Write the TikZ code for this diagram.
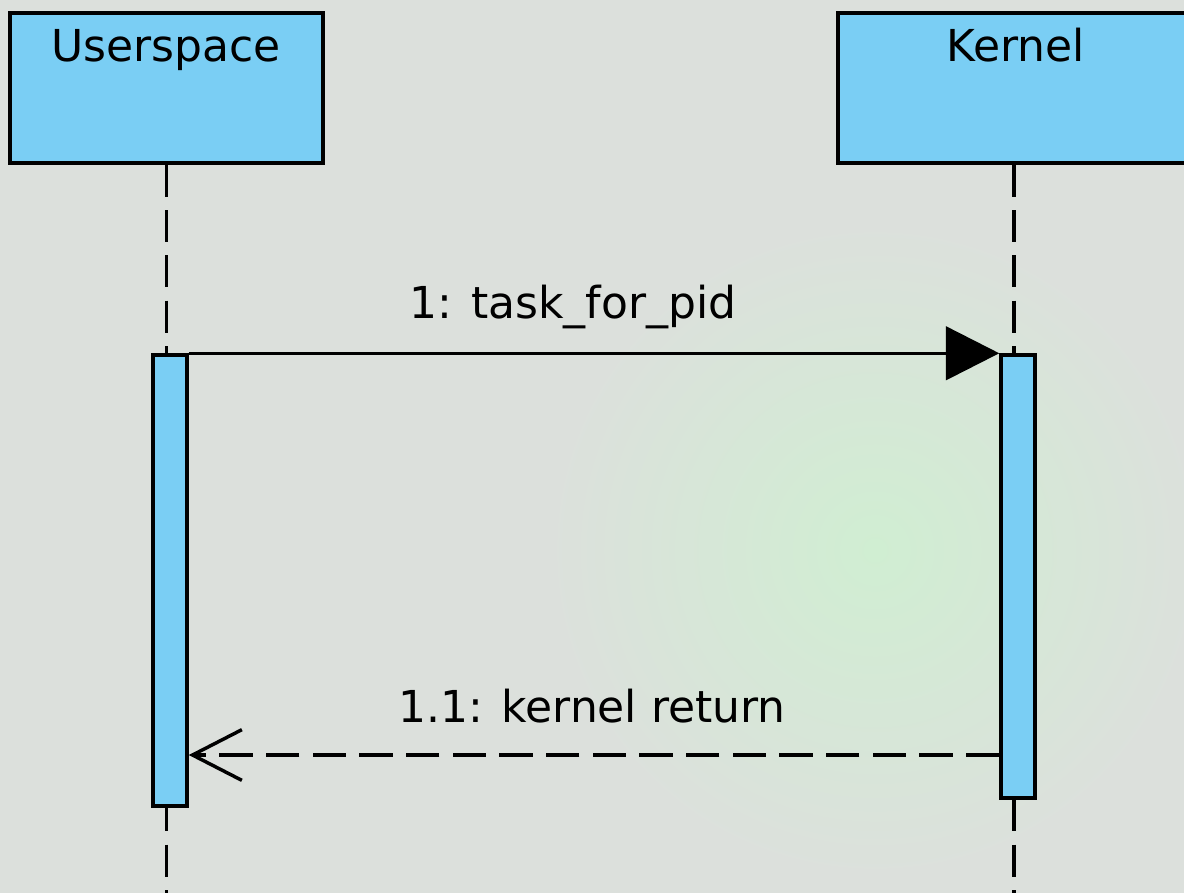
\documentclass[tikz,border=0pt]{standalone}
\usepackage{fontspec}
\setmainfont{DejaVu Sans}
\usetikzlibrary{arrows.meta}
\definecolor{bgc}{HTML}{DCE0DC}
\definecolor{glow}{HTML}{D0EED2}
\definecolor{actfill}{HTML}{7ACEF4}
\tikzset{
  participant/.style={draw=black, fill=actfill, line width=2.6pt, rectangle, inner sep=0pt},
  actbar/.style={draw=black, fill=actfill, line width=2.6pt, rectangle, inner sep=0pt, minimum width=25.5pt},
  lifeline/.style={line width=2.6pt, dash pattern=on 24pt off 10pt},
  msgtext/.style={font=\fontsize{33}{40}\selectfont, anchor=base, inner sep=0pt},
  callarrow/.style={line width=2.6pt, -{Triangle[length=40pt,width=40pt]}},
  retarrow/.style={line width=2.6pt, dash pattern=on 25pt off 10pt, -{Straight Barb[length=37pt,width=38pt,line width=2.6pt]}}
}
\begin{document}
\begin{tikzpicture}[x=0.75pt,y=-0.75pt]
\useasboundingbox (0,0) rectangle (1184,893);
\clip (0,0) rectangle (1184,893);
\fill[bgc] (0,0) rectangle (1184,893);
\shade[inner color=glow, outer color=bgc] (875,550) circle (330);
% participant boxes
\node[participant, minimum width=234.75pt, minimum height=112.5pt] (user) at (166.5,88) {};
\node[participant, minimum width=267pt, minimum height=112.5pt] (kernel) at (1016,88) {};
\node[msgtext] (usertxt) at (166,61) {Userspace};
\node[msgtext] (kerneltxt) at (1016,61) {Kernel};
% lifelines
\coordinate (bottom) at (0,893);
\draw[lifeline] (user.south) -- (user.south |- bottom);
\draw[lifeline] (kernel.south -| 1014,0) -- (1014,893);
% activation bars
\node[actbar, minimum height=338.25pt] (useract) at (170,580.5) {};
\node[actbar, minimum height=332.25pt] (kernelact) at (1018,576.5) {};
% messages
\draw[callarrow] (useract.north east) -- (kernelact.north west);
\node[msgtext] (m1) at (573,318) {1: task\_for\_pid};
\coordinate (ret) at (0,755);
\draw[retarrow] (kernelact.west |- ret) -- (useract.east |- ret);
\node[msgtext] (m2) at (592,722) {1.1: kernel return};
\end{tikzpicture}
\end{document}
